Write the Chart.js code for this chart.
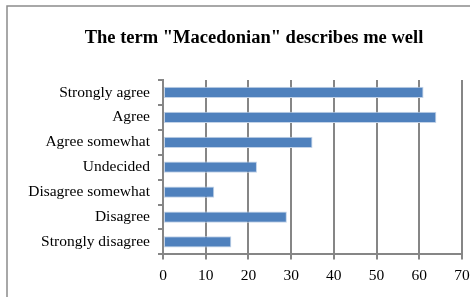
<!DOCTYPE html>
<html>
<head>
<meta charset="utf-8">
<script src="https://cdn.jsdelivr.net/npm/chart.js@4"></script>
<style>
  html, body { margin: 0; padding: 0; background: #fff; }
  #wrap { width: 470px; height: 297px; }
</style>
</head>
<body>
<div id="wrap"><canvas id="chart"></canvas></div>
<script>
const categories = ["Strongly agree", "Agree", "Agree somewhat", "Undecided", "Disagree somewhat", "Disagree", "Strongly disagree"];
const values = [61, 64, 35, 22, 12, 29, 16];
const chart_title = 'The term "Macedonian" describes me well';
const x_min = 0;
const x_max = 70;
const x_step = 10;

const serif = "'Liberation Serif', 'Times New Roman', serif";
const axis_gray = '#868686';

// outer frame and the title, centred on the frame rather than the canvas
const frame_plugin = {
    id: 'frame',
    beforeDraw(chart) {
        const ctx = chart.ctx;
        ctx.save();
        ctx.fillStyle = '#fff';
        ctx.fillRect(0, 0, chart.width, chart.height);
        ctx.strokeStyle = '#8c8c8c';
        ctx.lineWidth = 1.5;
        ctx.strokeRect(7, 6, chart.width + 10, chart.height + 10);
        ctx.fillStyle = '#000';
        ctx.font = "bold 18.5px " + serif;
        ctx.textAlign = 'center';
        ctx.textBaseline = 'middle';
        ctx.fillText(chart_title, 254, 38);
        ctx.restore();
    }
};

new Chart(document.getElementById('chart'), {
    type: 'bar',
    data: {
        labels: categories,
        datasets: [{
            data: values,
            backgroundColor: '#4f81bd',
            borderColor: '#c3d3e8',
            borderWidth: 1,
            borderSkipped: false,
            categoryPercentage: 1,
            barPercentage: 0.45
        }]
    },
    options: {
        indexAxis: 'y',
        responsive: true,
        maintainAspectRatio: false,
        animation: false,
        layout: {
            padding: { left: 0, right: 8, top: 80, bottom: 5 }
        },
        plugins: {
            legend: { display: false },
            tooltip: { enabled: false },
            title: { display: false }
        },
        scales: {
            x: {
                min: x_min,
                max: x_max,
                afterFit(scale) {
                    scale.paddingLeft = 0;
                    scale.paddingRight = 0;
                },
                ticks: {
                    stepSize: x_step,
                    color: '#000',
                    font: { family: serif, size: 15.5 },
                    padding: 7
                },
                grid: {
                    color: axis_gray,
                    lineWidth: 2,
                    tickLength: 5,
                    tickColor: axis_gray
                },
                border: { display: true, color: axis_gray, width: 2 }
            },
            y: {
                offset: true,
                afterFit(scale) { scale.width = 163; },
                ticks: {
                    color: '#000',
                    font: { family: serif, size: 15.5 },
                    padding: 8
                },
                grid: {
                    offset: true,
                    drawOnChartArea: false,
                    drawTicks: true,
                    tickLength: 5,
                    color: axis_gray,
                    lineWidth: 2
                },
                border: { display: true, color: axis_gray, width: 2 }
            }
        }
    },
    plugins: [frame_plugin]
});
</script>
</body>
</html>
